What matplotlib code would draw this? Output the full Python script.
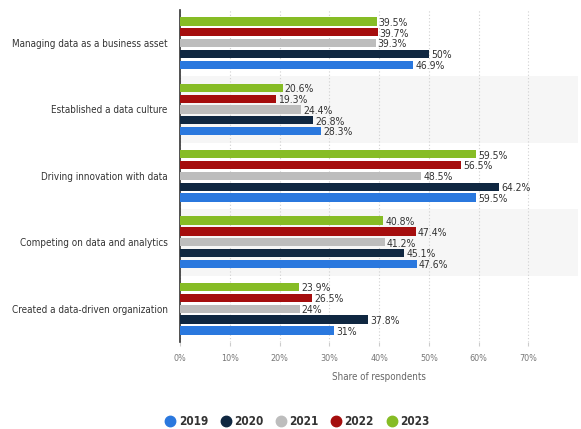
import matplotlib
matplotlib.use("Agg")
import matplotlib.pyplot as plt
from matplotlib.lines import Line2D
import numpy as np

categories = ["Managing data as a business asset", "Established a data culture",
              "Driving innovation with data", "Competing on data and analytics",
              "Created a data-driven organization"]
years = ["2019", "2020", "2021", "2022", "2023"]
v2019 = [46.9, 28.3, 59.5, 47.6, 31]
v2020 = [50, 26.8, 64.2, 45.1, 37.8]
v2021 = [39.3, 24.4, 48.5, 41.2, 24]
v2022 = [39.7, 19.3, 56.5, 47.4, 26.5]
v2023 = [39.5, 20.6, 59.5, 40.8, 23.9]
series = [v2019, v2020, v2021, v2022, v2023]
colors = ["#2a78de", "#0f2741", "#bdbdbd", "#a50d0d", "#86bc25"]
xticks = [0, 10, 20, 30, 40, 50, 60, 70]

plt.rcParams['font.family'] = ["DejaVu Sans"]
plt.rcParams['font.stretch'] = "condensed"

fig = plt.figure(figsize=(5.81, 4.29), dpi=100)
ax = fig.add_axes([0.31, 0.203, 0.685, 0.774])

n = len(categories)
y = np.arange(n)
step = 0.163
h = 0.125
for i in range(n):
    if i % 2 == 1:
        ax.axhspan(i - 0.5, i + 0.5, color="#f6f6f6", zorder=0, lw=0)

for k, (vals, c, yr) in enumerate(zip(series, colors, years)):
    pos = y + (2 - k) * step
    ax.barh(pos, vals, height=h, color=c, zorder=3, label=yr)
    for p, v in zip(pos, vals):
        ax.text(v + 0.4, p + 0.02, f"{v:g}%", va="center", ha="left",
                fontsize=7.5, color="#333333", zorder=4, fontstretch="condensed")

ax.set_ylim(n - 0.5, -0.5)
ax.set_xlim(0, 80)
ax.set_yticks(y)
ax.set_yticklabels(categories, fontsize=7.1, color="#333333", fontstretch="condensed")
ax.set_xticks(xticks)
ax.set_xticklabels([f"{t}%" for t in xticks], fontsize=6.5, color="#777777",
                   fontstretch="condensed")
ax.tick_params(axis="y", length=0, pad=9)
ax.tick_params(axis="x", length=3, color="#cccccc", pad=6)
ax.xaxis.grid(True, linestyle=(0, (1, 2)), color="#d0d0d0", lw=0.8, zorder=1)
ax.set_axisbelow(True)
for s in ["top", "right", "bottom"]:
    ax.spines[s].set_visible(False)
ax.spines["left"].set_color("#333333")
ax.spines["left"].set_linewidth(1.2)
ax.set_xlabel("Share of respondents", fontsize=7, color="#666666", labelpad=6,
              fontstretch="condensed")

handles = [Line2D([0], [0], marker="o", linestyle="", markersize=7.5,
                  markerfacecolor=c, markeredgecolor=c) for c in colors]
leg = fig.legend(handles, years, loc="center", bbox_to_anchor=(0.51, 0.017),
                 ncol=5, frameon=False, fontsize=8.5, handletextpad=0.1,
                 columnspacing=0.9, handlelength=1.2)
for t in leg.get_texts():
    t.set_color("#333333")
    t.set_fontweight("bold")
    t.set_fontstretch("condensed")

fig.savefig("out.png", dpi=100)
